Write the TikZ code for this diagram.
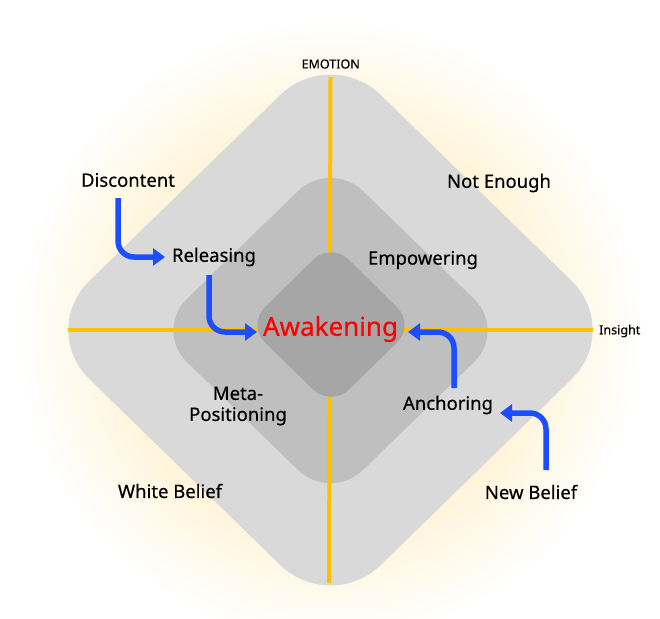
\documentclass[tikz,border=0pt]{standalone}
\usepackage{fontspec}
\setmainfont{Noto Sans}
\newfontfamily\lblfont{Noto Sans}[FakeBold=0.35]
\usetikzlibrary{arrows.meta}
\definecolor{glowc}{RGB}{255,243,212}
\definecolor{gOuter}{RGB}{217,217,217}
\definecolor{gMid}{RGB}{191,191,191}
\definecolor{gIn}{RGB}{166,166,166}
\definecolor{axisc}{RGB}{255,192,0}
\definecolor{arrc}{RGB}{28,78,255}
\definecolor{awk}{RGB}{255,0,0}
\pgfdeclareradialshading{glowshade}{\pgfpoint{0bp}{0bp}}{color(0bp)=(glowc); color(14bp)=(glowc); color(23bp)=(white); color(50bp)=(white)}
\tikzset{
  lbl/.style={inner sep=2pt, font=\lblfont\fontsize{18.5}{21}\selectfont},
  small/.style={inner sep=2pt, font=\lblfont\fontsize{12.5}{14}\selectfont},
  axis/.style={draw=axisc, line width=4pt},
  arr/.style={draw=arrc, line width=5.5pt, rounded corners=16pt, -{Triangle[length=12pt,width=17pt]}},
}
\begin{document}
\begin{tikzpicture}[x=1pt,y=-1pt]
\useasboundingbox (0,0) rectangle (660,618);
\fill[white] (0,0) rectangle (660,618);
\shade[shading=glowshade] (330,330) circle[radius=340];
% outer diamond
\fill[gOuter, rounded corners=70pt] (330.5,46) -- (622,330) -- (330.5,614) -- (39,330) -- cycle;
% middle diamond
\fill[gMid, rounded corners=45pt] (330.5,159.5) -- (506.5,330.5) -- (330.5,501.5) -- (154.5,330.5) -- cycle;
% axes
\coordinate (top) at (330.5,77);
\coordinate (bot) at (329,583);
\coordinate (lft) at (68,330);
\coordinate (rgt) at (593,330);
\draw[axis] (top) -- (bot);
\draw[axis] (lft) -- (rgt);
% inner diamond
\fill[gIn, rounded corners=25pt] (331,242) -- (415,325) -- (331,407) -- (247,325) -- cycle;
% labels
\node[small] (emo) at (330.7,64) {EMOTION};
\node[small, anchor=west] (ins) at (597,331) {Insight};
\node[lbl] (disc) at (128,180) {Discontent};
\node[lbl] (note) at (499,183) {Not Enough};
\node[lbl] (rel) at (214,257) {Releasing};
\node[lbl] (emp) at (423,260) {Empowering};
\node[inner sep=2pt, text=awk, font=\lblfont\fontsize{26}{30}\selectfont] (awk) at (330.5,329) {Awakening};
\node[lbl, align=center] (meta) at (238,406) {Meta-\\[0pt]Positioning};
\node[lbl] (anc) at (448,405) {Anchoring};
\node[lbl] (white) at (170,491) {White Belief};
\node[lbl] (newb) at (531,492) {New Belief};
% arrows
\coordinate (a1s) at (118,198);
\coordinate (a1e) at (165,257);
\coordinate (a2s) at (209,275);
\coordinate (a2e) at (257,332);
\coordinate (a3s) at (454,388);
\coordinate (a3e) at (408,332);
\coordinate (a4s) at (546,470);
\coordinate (a4e) at (500,413);
\draw[arr] (a1s) |- (a1e);
\draw[arr] (a2s) |- (a2e);
\draw[arr] (a3s) |- (a3e);
\draw[arr] (a4s) |- (a4e);
\end{tikzpicture}
\end{document}
